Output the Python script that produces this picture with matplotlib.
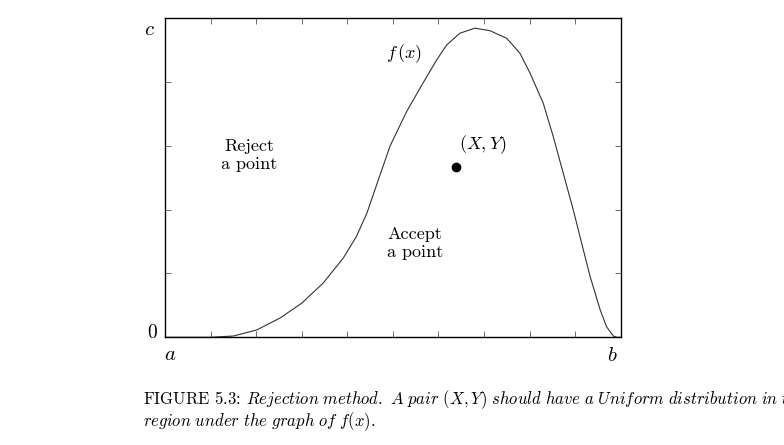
import matplotlib
matplotlib.use('Agg')
import matplotlib.pyplot as plt

plt.rcParams['font.family'] = 'cmr10'
plt.rcParams['mathtext.fontset'] = 'cm'
plt.rcParams['axes.formatter.use_mathtext'] = True

curve_x = [0.0, 0.099, 0.150, 0.201, 0.252, 0.300, 0.347, 0.391, 0.420, 0.443,
           0.468, 0.494, 0.530, 0.567, 0.596, 0.618, 0.647, 0.680, 0.713,
           0.750, 0.779, 0.801, 0.830, 0.852, 0.874, 0.896, 0.918, 0.933,
           0.955, 0.969, 0.984, 0.991, 1.0]
curve_y = [0.0, 0.0, 0.004, 0.023, 0.060, 0.107, 0.170, 0.248, 0.316, 0.389,
           0.493, 0.600, 0.707, 0.799, 0.869, 0.916, 0.953, 0.969, 0.961,
           0.937, 0.890, 0.828, 0.734, 0.629, 0.514, 0.399, 0.274, 0.190,
           0.086, 0.033, 0.004, 0.0, 0.0]
point_x, point_y = 0.639, 0.533

fig = plt.figure(figsize=(7.84, 4.45), dpi=100)
ax = fig.add_axes([0.2105, 0.242, 0.5812, 0.717])
ax.plot(curve_x, curve_y, color='#333333', lw=0.8)
ax.plot([point_x], [point_y], 'o', color='black', ms=6)
ax.set_xlim(0, 1)
ax.set_ylim(0, 1)
ax.set_xticks([i / 10 for i in range(1, 10)])
ax.set_yticks([0.2, 0.4, 0.6, 0.8])
ax.tick_params(direction='in', length=4, width=0.6, top=True, right=True,
               labelbottom=False, labelleft=False, color='#555555')
for s in ax.spines.values():
    s.set_linewidth(1.0)

fs = 13
ax.text(0.185, 0.57, 'Reject\na point', ha='center', va='center', fontsize=fs, linespacing=1.25)
ax.text(0.549, 0.295, 'Accept\na point', ha='center', va='center', fontsize=fs, linespacing=1.25)
ax.text(0.525, 0.89, r'$f\,(x)$', ha='center', va='center', fontsize=fs)
ax.text(0.697, 0.603, r'$(X,Y)$', ha='center', va='center', fontsize=fs)

fig.text(150 / 784, 1 - 30 / 445, r'$c$', ha='center', va='center', fontsize=fs + 2)
fig.text(152 / 784, 1 - 333 / 445, '0', ha='center', va='center', fontsize=fs + 1)
fig.text(170 / 784, 1 - 355 / 445, r'$a$', ha='center', va='center', fontsize=fs + 2)
fig.text(612 / 784, 1 - 356 / 445, r'$b$', ha='center', va='center', fontsize=fs + 2)

fig.text(143 / 784, 1 - 400 / 445,
         r'FIGURE 5.3: $\mathit{Rejection\ method.\ A\ pair\ }(X,Y)\mathit{\ should\ have\ a\ Uniform\ distribution\ in\ the}$',
         ha='left', va='center', fontsize=12)
fig.text(143 / 784, 1 - 422 / 445,
         r'$\mathit{region\ under\ the\ graph\ of\ }f(x)\mathit{.}$',
         ha='left', va='center', fontsize=12)

fig.savefig('out.png', dpi=100)
